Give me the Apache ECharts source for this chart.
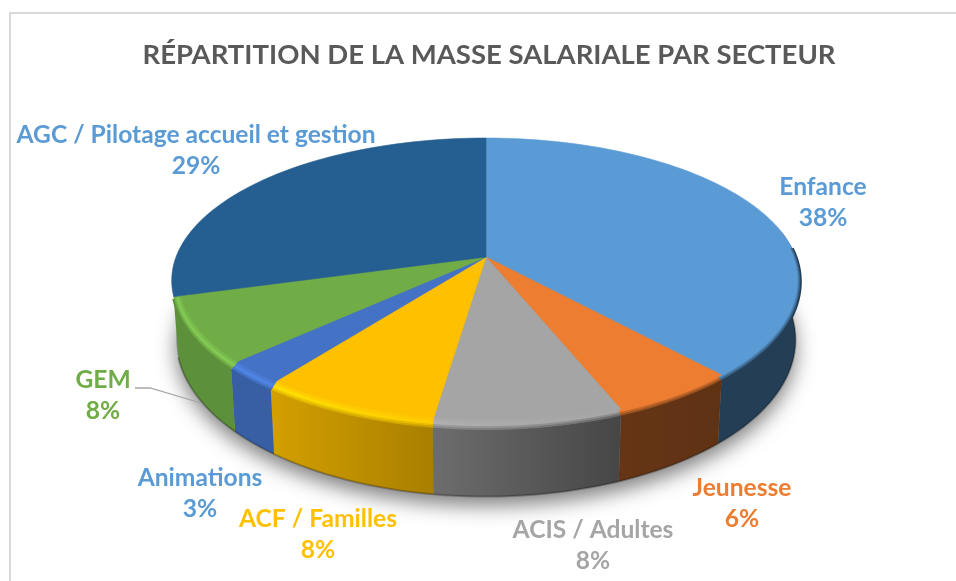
<!DOCTYPE html>
<html>
<head>
<meta charset="utf-8">
<style>
html, body { margin: 0; padding: 0; background: #fff; }
#main { width: 956px; height: 581px; }
</style>
<script src="https://cdn.jsdelivr.net/npm/echarts@6/dist/echarts.min.js"></script>
</head>
<body>
<div id="main"></div>
<script>
var secteurs = ['Enfance', 'Jeunesse', 'ACIS / Adultes', 'ACF / Familles', 'Animations', 'GEM', 'AGC / Pilotage accueil et gestion'];
var parts = [38.4, 5.6, 8.3, 8.0, 2.7, 7.6, 29.4];
var couleurs = ['#5b9bd5', '#ed7d31', '#a5a5a5', '#ffc000', '#4472c4', '#70ad47', '#255e91'];
var couleursLabels = ['#5b9bd5', '#ed7d31', '#a5a5a5', '#ffc000', '#5b9bd5', '#70ad47', '#5b9bd5'];
// position du centre de chaque etiquette
var posLabels = [[823, 203], [742, 504], [593, 546], [318, 535], [200, 494], [103, 396], [196, 151]];

var myChart = echarts.init(document.getElementById('main'));

// projection du disque en perspective
var cx = 486, cy = 257, R = 310, H = 138.6, k = 0.165;

function rad(pct) { return pct * 3.6 * Math.PI / 180; }

function ptHaut(pct, r, drop) {
    var u = Math.sin(rad(pct)), v = -Math.cos(rad(pct));
    var s = 1 / (1 - k * v * r);
    return [cx + R * r * u * s, cy + H * r * v * s + drop * Math.max(0, v)];
}

function ptBas(pct) {
    var p = ptHaut(pct, 1, 0);
    return [cx + (p[0] - cx) * 0.985, cy + (p[1] - cy) * 1.1 + 57];
}

function rgb(hex) {
    return [parseInt(hex.substr(1, 2), 16), parseInt(hex.substr(3, 2), 16), parseInt(hex.substr(5, 2), 16)];
}
function css(c) {
    return 'rgb(' + Math.round(c[0]) + ',' + Math.round(c[1]) + ',' + Math.round(c[2]) + ')';
}
function mul(c, f) {
    return [Math.min(255, c[0] * f), Math.min(255, c[1] * f), Math.min(255, c[2] * f)];
}
function mix(a, b, t) {
    return [a[0] + (b[0] - a[0]) * t, a[1] + (b[1] - a[1]) * t, a[2] + (b[2] - a[2]) * t];
}
// assombrissement du flanc selon x, lumiere venant de la gauche
function sombre(x) {
    return Math.min(0.83, Math.max(0.4, 0.66 - (x - cx + 54) * 0.00124));
}
function reflet(x) {
    return Math.max(0, Math.min(0.18, (cx - x + 50) / 1500));
}
function degrade(c1, c2) {
    return {
        type: 'linear', x: 0, y: 0, x2: 1, y2: 0,
        colorStops: [{ offset: 0, color: c1 }, { offset: 1, color: c2 }]
    };
}
function arc(a, b, fn) {
    var pts = [], n = Math.max(2, Math.ceil((b - a) * 2));
    for (var i = 0; i <= n; i++) {
        pts.push(fn(a + (b - a) * i / n));
    }
    return pts;
}

var couches = [1, 0.8, 0.65, 0.5, 0.35, 0.2, 0];

function renderSecteur(params, api) {
    var debut = api.value(0), part = api.value(1), i = params.dataIndex;
    var fin = debut + part;
    var base = rgb(couleurs[i]);
    var enfants = [];

    // flanc, seulement la partie visible devant
    var a = Math.max(debut, 22), b = Math.min(fin, 70.6);
    if (b > a) {
        var haut = arc(a, b, function (t) { return ptHaut(t, 1, 8); });
        var bas = arc(a, b, ptBas);
        var xa = Math.min(haut[0][0], haut[haut.length - 1][0]);
        var xb = Math.max(haut[0][0], haut[haut.length - 1][0]);
        enfants.push({
            type: 'polygon',
            shape: { points: haut.concat(bas.slice().reverse()) },
            style: { fill: degrade(css(mul(base, sombre(xa))), css(mul(base, sombre(xb)))) }
        });
        enfants.push({
            type: 'polyline',
            shape: { points: bas },
            style: { fill: 'none', stroke: 'rgba(0,0,0,0.25)', lineWidth: 2 }
        });
    }

    // face superieure
    var face = [[cx, cy]].concat(arc(debut, fin, function (t) { return ptHaut(t, 1, 0); }));
    enfants.push({
        type: 'polygon',
        shape: { points: face },
        style: { fill: couleurs[i], stroke: couleurs[i], lineWidth: 0.6 }
    });

    // biseau au bord, du bord vers l'interieur
    var a2 = Math.max(debut, 24);
    if (b > a2) {
        couches.forEach(function (p) {
            var pts = arc(a2, b, function (t) { return ptHaut(t, 0.975 + 0.025 * p, 8 * p); });
            var x1 = pts[0][0], x2 = pts[pts.length - 1][0];
            var xs = [Math.min(x1, x2), Math.max(x1, x2)];
            var stops = xs.map(function (x) {
                var hl = mul(base, 1 + reflet(x));
                var mur = mul(base, sombre(x));
                if (p <= 0.5) {
                    return css(mix(base, hl, p * 2));
                }
                return css(mix(hl, mur, (p - 0.5) * 2));
            });
            enfants.push({
                type: 'polyline',
                shape: { points: pts },
                style: { fill: 'none', stroke: degrade(stops[0], stops[1]), lineWidth: 3 }
            });
        });
    }

    // etiquette
    enfants.push({
        type: 'text',
        style: {
            text: secteurs[i] + '\n' + Math.round(part) + '%',
            x: posLabels[i][0],
            y: posLabels[i][1],
            fill: couleursLabels[i],
            font: 'bold 24.6px Lato, Carlito, sans-serif',
            align: 'center',
            verticalAlign: 'middle',
            lineHeight: 31
        }
    });

    return { type: 'group', children: enfants };
}

function renderOmbre() {
    return {
        type: 'polygon',
        shape: { points: arc(0, 100, ptBas) },
        style: {
            fill: '#888',
            shadowBlur: 20,
            shadowOffsetX: 0,
            shadowOffsetY: 9,
            shadowColor: 'rgba(0,0,0,0.5)'
        }
    };
}

var donnees = [], cumul = 0;
parts.forEach(function (v) {
    donnees.push([cumul, v]);
    cumul += v;
});

option = {
    backgroundColor: '#fff',
    animation: false,
    title: {
        text: 'RÉPARTITION DE LA MASSE SALARIALE PAR SECTEUR',
        left: 484,
        top: 36,
        textAlign: 'center',
        textStyle: {
            color: '#595959',
            fontFamily: 'Lato, Carlito, sans-serif',
            fontWeight: 'bold',
            fontSize: 27.5
        }
    },
    graphic: [
        {
            type: 'polyline',
            silent: true,
            shape: { points: [[10, 581], [10, 13], [956, 13]] },
            style: { fill: 'none', stroke: '#d9d9d9', lineWidth: 2 }
        },
        {
            // trait de rappel GEM
            type: 'polyline',
            silent: true,
            z: 10,
            shape: { points: [[135, 388], [150, 388], [201, 403]] },
            style: { fill: 'none', stroke: '#a6a6a6', lineWidth: 1.3 }
        }
    ],
    series: [
        {
            type: 'custom',
            coordinateSystem: 'none',
            silent: true,
            z: 1,
            data: [[0]],
            renderItem: renderOmbre
        },
        {
            type: 'custom',
            coordinateSystem: 'none',
            silent: true,
            z: 2,
            data: donnees,
            renderItem: renderSecteur
        }
    ]
};

myChart.setOption(option);
</script>
</body>
</html>
